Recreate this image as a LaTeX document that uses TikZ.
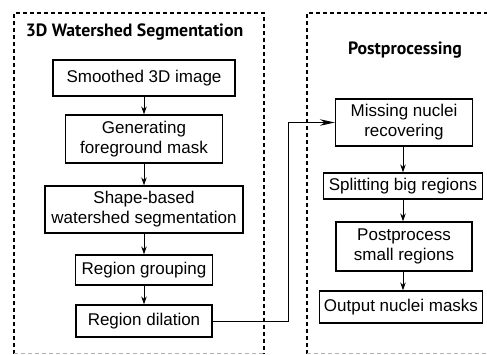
\documentclass[tikz,border=0pt]{standalone}
\usepackage{fontspec}
\setmainfont{Liberation Sans}
\newfontfamily\titlefont{PT Sans}
\usetikzlibrary{arrows.meta,calc}
\begin{document}
\begin{tikzpicture}[x=1pt,y=-1pt,
  procbox/.style={draw,line width=1.3pt,inner sep=0pt,align=center,
    font=\fontsize{17}{20}\selectfont},
  grp/.style={line width=1.2pt,dash pattern=on 4pt off 3pt},
  arr/.style={line width=1pt,-{Stealth[length=8pt,width=5.5pt]}},
  longarr/.style={line width=1pt,-{Stealth[length=15pt,width=6.5pt]}},
  ttl/.style={font=\titlefont\bfseries\fontsize{17.8}{20}\selectfont}]
\useasboundingbox (0,0) rectangle (487,354);
\draw[grp] (14,354) -- (14,13) -- (264,13) -- (264,354);
\draw[grp,gray!60] (14,353.5) -- (264,353.5);
\draw[grp] (307,354) -- (307,13) -- (490,13);
\draw[grp,gray!60] (307,353.5) -- (487,353.5);
\node[ttl] (t1) at (134.5,32) {3D Watershed Segmentation};
\node[ttl] (t2) at (405,50) {Postprocessing};
\node[procbox,minimum width=182pt,minimum height=36pt] (b1) at (144,78) {Smoothed 3D image};
\node[procbox,minimum width=157pt,minimum height=48pt] (b2) at (144,139) {Generating\\foreground mask};
\node[procbox,minimum width=198pt,minimum height=47pt] (b3) at (144,209.5) {Shape-based\\watershed segmentation};
\node[procbox,minimum width=137pt,minimum height=30pt] (b4) at (144,270) {Region grouping};
\node[procbox,minimum width=136pt,minimum height=32pt] (b5) at (144,321) {Region dilation};
\node[procbox,minimum width=137pt,minimum height=47pt] (b6) at (404,122.5) {Missing nuclei\\recovering};
\node[procbox,minimum width=159pt,minimum height=26pt] (b7) at (403,186) {Splitting big regions};
\node[procbox,minimum width=136pt,minimum height=49pt] (b8) at (404,246.5) {Postprocess\\small regions};
\node[procbox,minimum width=163pt,minimum height=32pt] (b9) at (401,307) {Output nuclei masks};
\draw[arr] (b1) -- (b2);
\draw[arr] (b2) -- (b3);
\draw[arr] (b3) -- (b4);
\draw[arr] (b4) -- (b5);
\draw[arr] (b6.south -| 403,0) -- (b7.north -| 403,0);
\draw[arr] (b7.south -| 403,0) -- (b8.north -| 403,0);
\draw[arr] (b8.south -| 403,0) -- (b9.north -| 403,0);
\coordinate (c1) at ($(b5.east)+(76,0)$);
\draw[longarr] (b5.east) -- (c1) |- (b6.west);
\end{tikzpicture}
\end{document}
